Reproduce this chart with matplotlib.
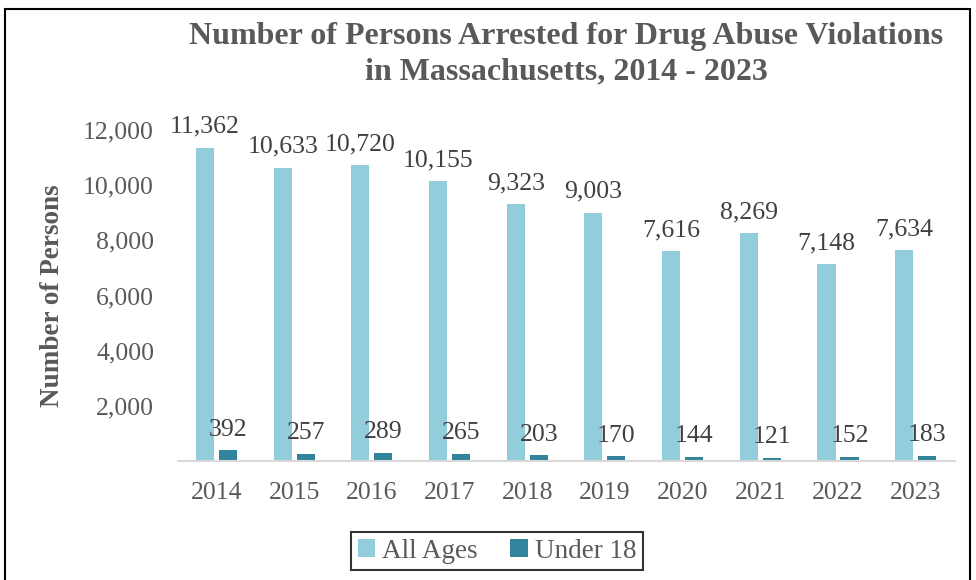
import matplotlib.pyplot as plt
import numpy as np
from matplotlib.patches import Rectangle

years = ["2014", "2015", "2016", "2017", "2018", "2019", "2020", "2021", "2022", "2023"]
all_ages = [11362, 10633, 10720, 10155, 9323, 9003, 7616, 8269, 7148, 7634]
under_18 = [392, 257, 289, 265, 203, 170, 144, 121, 152, 183]
yticks = [2000, 4000, 6000, 8000, 10000, 12000]

plt.rcParams['font.family'] = ['Liberation Serif', 'DejaVu Serif']

LIGHT = "#92CDDC"
DARK = "#31849B"
TEXT = "#595959"

fig = plt.figure(figsize=(9.76, 5.8), dpi=100)
ax = fig.add_axes([0.182, 0.205, 0.796, 0.571])

x = np.arange(len(years))
w = 0.232
off = 0.148
b1 = ax.bar(x - off, all_ages, w, color=LIGHT, label="All Ages")
b2 = ax.bar(x + off, under_18, w, color=DARK, label="Under 18")

for bars, vals in ((b1, all_ages), (b2, under_18)):
    for r, v in zip(bars, vals):
        ax.annotate(f"{v:,}", (r.get_x() + r.get_width() / 2, v),
                    xytext=(0, 7), textcoords="offset points",
                    ha="center", va="bottom", fontsize=18.5, color="#404040",
                    annotation_clip=False)

ax.set_xlim(-0.5, len(years) - 0.5)
ax.set_ylim(0, 12000)
ax.set_xticks(x)
ax.set_xticklabels(years)
ax.set_yticks(yticks)
ax.set_yticklabels([f"{t:,}" for t in yticks])
ax.tick_params(axis="both", length=0, labelsize=18.5, labelcolor=TEXT)
ax.tick_params(axis="x", pad=15)
ax.tick_params(axis="y", pad=17)

for s in ("top", "right", "left"):
    ax.spines[s].set_visible(False)
ax.spines["bottom"].set_color("#D9D9D9")
ax.spines["bottom"].set_linewidth(1.5)

ax.set_ylabel("Number of Persons", fontsize=19.5, fontweight="bold", color=TEXT, labelpad=13)

fig.text(0.58, 0.906, "Number of Persons Arrested for Drug Abuse Violations\nin Massachusetts, 2014 - 2023",
         ha="center", va="center", fontsize=23, fontweight="bold", color=TEXT, linespacing=1.3)

leg = fig.legend(handles=[b1, b2], loc="center", bbox_to_anchor=(497 / 976, 1 - 551 / 580),
                 ncol=2, fontsize=19.5, frameon=True, fancybox=False, handlelength=0.65,
                 handleheight=0.65, handletextpad=0.25, columnspacing=1.2, borderpad=0.25)
leg.get_frame().set_edgecolor("black")
leg.get_frame().set_linewidth(1.5)
for t in leg.get_texts():
    t.set_color(TEXT)

# outer border of the chart
fig.patches.append(Rectangle((5 / 976, -0.05), 965 / 976, 1.05 - 9 / 580, transform=fig.transFigure,
                             fill=False, edgecolor="black", linewidth=1.5))

fig.savefig("out.png", dpi=100)
